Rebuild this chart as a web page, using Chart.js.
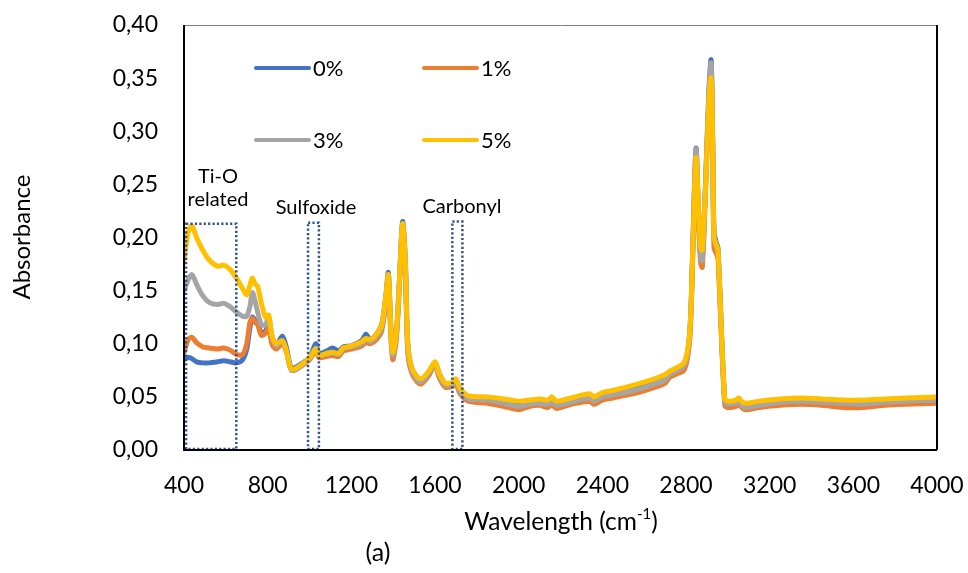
<!DOCTYPE html>
<html>
<head>
<meta charset="utf-8">
<script src="https://cdn.jsdelivr.net/npm/chart.js@4.4.1/dist/chart.umd.min.js"></script>
<style>
  html, body { margin: 0; padding: 0; background: #ffffff; }
  canvas { display: block; }
</style>
</head>
<body>
<canvas id="ftir" width="968" height="573"></canvas>
<script>
// FTIR absorbance spectra for TiO2 contents of 0, 1, 3 and 5 %
const wavenumbers = [
  400, 420, 438, 460, 490, 520, 560, 590, 620, 650, 680, 700, 715, 727, 740, 752, 770, 790, 805, 820,
  840, 870, 890, 915, 960, 1000, 1030, 1045, 1080, 1110, 1140, 1160, 1200, 1250, 1270, 1290, 1320, 1345, 1365, 1377,
  1388, 1398, 1415, 1430, 1445, 1458, 1470, 1490, 1530, 1570, 1600, 1620, 1650, 1685, 1700, 1720, 1760, 1850, 1930, 2000,
  2050, 2100, 2140, 2160, 2180, 2250, 2340, 2360, 2400, 2450, 2550, 2650, 2700, 2720, 2760, 2790, 2810, 2822, 2835, 2848,
  2858, 2870, 2878, 2895, 2910, 2920, 2927, 2934, 2945, 2953, 2985, 3000, 3040, 3050, 3080, 3150, 3250, 3350, 3450, 3550,
  3650, 3750, 3850, 4000
];
const abs0 = [
  0.085, 0.087, 0.086, 0.083, 0.082, 0.082, 0.083, 0.084, 0.083, 0.082, 0.085, 0.095, 0.115, 0.125, 0.122, 0.120, 0.110, 0.112, 0.120, 0.105,
  0.098, 0.107, 0.096, 0.077, 0.081, 0.087, 0.100, 0.091, 0.093, 0.096, 0.093, 0.097, 0.098, 0.103, 0.109, 0.104, 0.109, 0.118, 0.145, 0.167,
  0.120, 0.093, 0.110, 0.160, 0.215, 0.180, 0.100, 0.076, 0.066, 0.073, 0.082, 0.072, 0.062, 0.063, 0.066, 0.057, 0.050, 0.049, 0.046, 0.043,
  0.045, 0.046, 0.045, 0.049, 0.043, 0.047, 0.050, 0.047, 0.051, 0.053, 0.057, 0.063, 0.067, 0.072, 0.076, 0.080, 0.095, 0.125, 0.210, 0.284,
  0.235, 0.185, 0.180, 0.260, 0.340, 0.367, 0.300, 0.205, 0.195, 0.190, 0.047, 0.045, 0.046, 0.047, 0.042, 0.044, 0.046, 0.047, 0.046, 0.045,
  0.044, 0.046, 0.047, 0.048
];
const abs1 = [
  0.092, 0.104, 0.106, 0.101, 0.097, 0.096, 0.095, 0.096, 0.094, 0.090, 0.090, 0.100, 0.120, 0.124, 0.120, 0.118, 0.108, 0.110, 0.116, 0.100,
  0.095, 0.100, 0.092, 0.075, 0.079, 0.085, 0.094, 0.087, 0.088, 0.089, 0.088, 0.093, 0.095, 0.098, 0.101, 0.100, 0.104, 0.112, 0.140, 0.160,
  0.110, 0.085, 0.104, 0.155, 0.208, 0.170, 0.092, 0.072, 0.062, 0.070, 0.080, 0.068, 0.059, 0.060, 0.062, 0.053, 0.046, 0.044, 0.041, 0.038,
  0.041, 0.042, 0.040, 0.043, 0.039, 0.043, 0.046, 0.043, 0.047, 0.049, 0.053, 0.059, 0.063, 0.068, 0.072, 0.075, 0.090, 0.118, 0.200, 0.277,
  0.222, 0.176, 0.172, 0.250, 0.330, 0.356, 0.290, 0.190, 0.185, 0.180, 0.042, 0.040, 0.041, 0.043, 0.038, 0.040, 0.042, 0.043, 0.042, 0.040,
  0.040, 0.042, 0.043, 0.044
];
const abs3 = [
  0.150, 0.160, 0.165, 0.156, 0.145, 0.139, 0.137, 0.138, 0.135, 0.130, 0.126, 0.126, 0.135, 0.148, 0.140, 0.130, 0.118, 0.118, 0.125, 0.108,
  0.098, 0.102, 0.093, 0.075, 0.079, 0.086, 0.096, 0.089, 0.090, 0.091, 0.090, 0.095, 0.097, 0.100, 0.104, 0.102, 0.107, 0.115, 0.142, 0.163,
  0.115, 0.089, 0.107, 0.158, 0.212, 0.175, 0.096, 0.074, 0.064, 0.072, 0.081, 0.070, 0.061, 0.062, 0.064, 0.055, 0.048, 0.047, 0.044, 0.041,
  0.043, 0.044, 0.043, 0.045, 0.042, 0.045, 0.049, 0.046, 0.050, 0.052, 0.056, 0.062, 0.066, 0.071, 0.075, 0.079, 0.094, 0.122, 0.205, 0.283,
  0.230, 0.182, 0.178, 0.258, 0.338, 0.364, 0.298, 0.200, 0.192, 0.186, 0.045, 0.043, 0.044, 0.045, 0.040, 0.042, 0.045, 0.046, 0.045, 0.044,
  0.043, 0.045, 0.046, 0.047
];
const abs5 = [
  0.178, 0.205, 0.211, 0.200, 0.188, 0.179, 0.173, 0.174, 0.170, 0.162, 0.152, 0.146, 0.155, 0.162, 0.156, 0.154, 0.138, 0.125, 0.127, 0.108,
  0.100, 0.103, 0.093, 0.076, 0.080, 0.087, 0.095, 0.089, 0.091, 0.092, 0.091, 0.096, 0.098, 0.102, 0.105, 0.104, 0.109, 0.118, 0.145, 0.165,
  0.118, 0.092, 0.110, 0.160, 0.213, 0.178, 0.100, 0.077, 0.067, 0.074, 0.083, 0.072, 0.063, 0.064, 0.067, 0.058, 0.051, 0.050, 0.048, 0.046,
  0.047, 0.048, 0.047, 0.050, 0.046, 0.049, 0.053, 0.050, 0.054, 0.056, 0.061, 0.067, 0.071, 0.074, 0.078, 0.082, 0.097, 0.125, 0.205, 0.275,
  0.235, 0.190, 0.188, 0.255, 0.330, 0.350, 0.290, 0.200, 0.193, 0.188, 0.048, 0.046, 0.047, 0.049, 0.044, 0.046, 0.048, 0.049, 0.048, 0.047,
  0.047, 0.048, 0.049, 0.050
];
const seriesLabels = ['0%', '1%', '3%', '5%'];
const seriesColors = ['#4472C4', '#ED7D31', '#A5A5A5', '#FFC000'];

// Band regions marked with dotted boxes
const bandFrom = [410, 993, 1683];
const bandTo = [650, 1045, 1731];
const bandTop = [0.213, 0.214, 0.215];
const bandCaptions = [['Ti-O', 'related'], ['Sulfoxide'], ['Carbonyl']];

const xMin = 400, xMax = 4000, xStep = 400;
const yMin = 0, yMax = 0.40, yStep = 0.05;

const FONT = 'Lato, "Open Sans", sans-serif';

const seriesValues = [abs0, abs1, abs3, abs5];
const datasets = seriesValues.map((vals, i) => ({
  label: seriesLabels[i],
  data: wavenumbers.map((w, k) => ({ x: w, y: vals[k] })),
  borderColor: seriesColors[i],
  backgroundColor: seriesColors[i],
  borderWidth: 5,
  pointRadius: 0,
  tension: 0.3,
  borderCapStyle: 'round',
  borderJoinStyle: 'round',
  order: 4 - i   // 5% on top, 0% underneath
}));

const framePlugin = {
  id: 'frame',
  afterDatasetsDraw(chart) {
    const { ctx, chartArea: a, scales } = chart;
    const xs = scales.x, ys = scales.y;
    // dotted band boxes and their captions
    ctx.save();
    ctx.strokeStyle = '#2F5597';
    ctx.lineWidth = 2.5;
    ctx.setLineDash([2.2, 2.2]);
    bandFrom.forEach((f, i) => {
      const x1 = xs.getPixelForValue(f), x2 = xs.getPixelForValue(bandTo[i]);
      const y1 = ys.getPixelForValue(bandTop[i]), y2 = ys.getPixelForValue(0) - 1;
      ctx.strokeRect(x1, y1, x2 - x1, y2 - y1);
    });
    ctx.restore();

    ctx.save();
    ctx.fillStyle = '#000';
    ctx.font = '20px ' + FONT;
    ctx.textAlign = 'center';
    ctx.textBaseline = 'middle';
    const capCenters = [218, 316, 462];
    const capY = [[177, 200], [208], [207]];
    bandCaptions.forEach((lines, i) => {
      lines.forEach((t, j) => ctx.fillText(t, capCenters[i], capY[i][j]));
    });
    ctx.restore();

    // plot frame
    ctx.save();
    ctx.strokeStyle = '#7f7f7f';
    ctx.lineWidth = 1;
    ctx.beginPath();
    ctx.moveTo(a.left, a.top + 0.5);
    ctx.lineTo(a.right, a.top + 0.5);
    ctx.stroke();
    ctx.strokeStyle = '#000';
    ctx.lineWidth = 2;
    ctx.beginPath();
    ctx.moveTo(a.right, a.top);
    ctx.lineTo(a.right, a.bottom);
    ctx.moveTo(a.left, a.top);
    ctx.lineTo(a.left, a.bottom);
    ctx.lineTo(a.right, a.bottom);
    ctx.stroke();
    ctx.restore();
  },
  afterDraw(chart) {
    const { ctx } = chart;
    // legend, two columns by two rows
    const cols = [256, 424];
    const rows = [68, 140];
    ctx.save();
    ctx.font = '22px ' + FONT;
    ctx.textBaseline = 'middle';
    ctx.textAlign = 'left';
    seriesLabels.forEach((lab, i) => {
      const x = cols[i % 2], y = rows[Math.floor(i / 2)];
      ctx.strokeStyle = seriesColors[i];
      ctx.lineWidth = 4;
      ctx.lineCap = 'round';
      ctx.beginPath();
      ctx.moveTo(x, y);
      ctx.lineTo(x + 53, y);
      ctx.stroke();
      ctx.fillStyle = '#000';
      ctx.fillText(lab, x + 57, y + 1);
    });
    ctx.restore();

    // axis titles and panel tag
    ctx.save();
    ctx.fillStyle = '#000';
    ctx.textBaseline = 'middle';
    ctx.font = '24px ' + FONT;
    ctx.translate(22, 237);
    ctx.rotate(-Math.PI / 2);
    ctx.textAlign = 'center';
    ctx.fillText('Absorbance', 0, 0);
    ctx.restore();

    ctx.save();
    ctx.fillStyle = '#000';
    ctx.textBaseline = 'middle';
    const big = '24.5px ' + FONT, small = '15px ' + FONT;
    const p1 = 'Wavelength (cm', p2 = '-1', p3 = ')';
    ctx.font = big; const w1 = ctx.measureText(p1).width, w3 = ctx.measureText(p3).width;
    ctx.font = small; const w2 = ctx.measureText(p2).width;
    let x = 561 - (w1 + w2 + w3) / 2;
    const y = 522;
    ctx.textAlign = 'left';
    ctx.font = big; ctx.fillText(p1, x, y); x += w1;
    ctx.font = small; ctx.fillText(p2, x, y - 8); x += w2;
    ctx.font = big; ctx.fillText(p3, x, y);
    ctx.textAlign = 'center';
    ctx.font = '25px ' + FONT;
    ctx.fillText('(a)', 378, 553);
    ctx.restore();
  }
};

new Chart(document.getElementById('ftir'), {
  type: 'line',
  data: { datasets },
  options: {
    responsive: false,
    devicePixelRatio: 1,
    animation: false,
    layout: { padding: { top: 25, right: 31, left: 0, bottom: 0 } },
    plugins: { legend: { display: false }, tooltip: { enabled: false } },
    scales: {
      x: {
        type: 'linear',
        min: xMin, max: xMax,
        grid: { display: false, drawTicks: false },
        border: { display: false },
        ticks: {
          stepSize: xStep, autoSkip: false, maxRotation: 0, padding: 22,
          color: '#000', font: { family: FONT, size: 23 },
          callback: v => String(v)
        },
        afterFit: s => { s.height = 123; s.paddingLeft = 0; s.paddingRight = 0; }
      },
      y: {
        min: yMin, max: yMax,
        grid: { display: false, drawTicks: false },
        border: { display: false },
        ticks: {
          stepSize: yStep, padding: 26,
          color: '#000', font: { family: FONT, size: 23 },
          callback: v => v.toFixed(2).replace('.', ',')
        },
        afterFit: s => { s.width = 184; s.paddingTop = 0; s.paddingBottom = 0; }
      }
    }
  },
  plugins: [framePlugin]
});
</script>
</body>
</html>
